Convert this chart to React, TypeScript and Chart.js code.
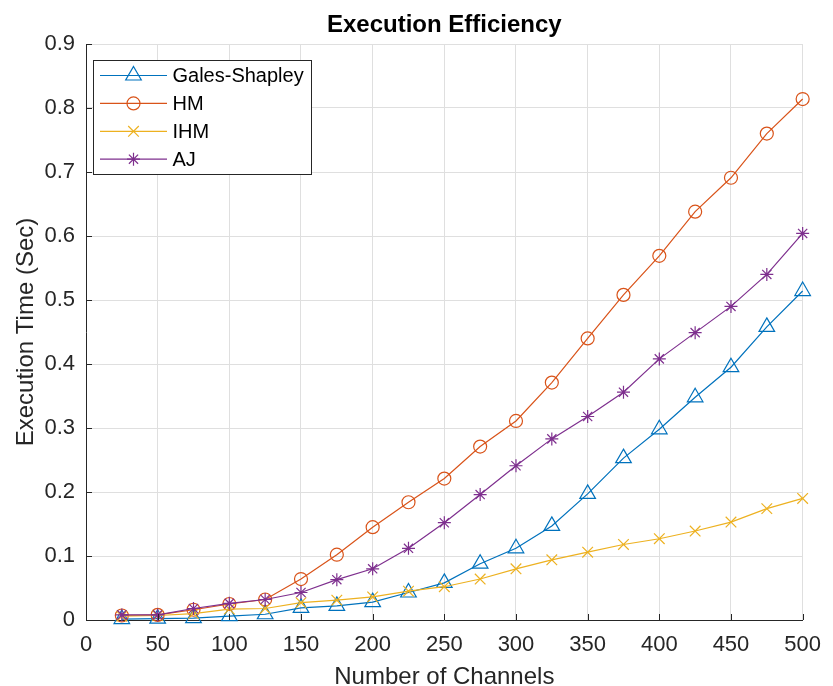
import React, { useEffect, useRef } from 'react';
import { Chart, registerables } from 'chart.js';

Chart.register(...registerables);

// ---- data ----
const channels = [25, 50, 75, 100, 125, 150, 175, 200, 225, 250, 275, 300, 325, 350, 375, 400, 425, 450, 475, 500];
const galesShapley = [0.0015, 0.002, 0.003, 0.006, 0.009, 0.019, 0.022, 0.028, 0.043, 0.058, 0.088, 0.112, 0.147, 0.197, 0.253, 0.298, 0.348, 0.395, 0.458, 0.514];
const hm = [0.007, 0.008, 0.016, 0.025, 0.032, 0.064, 0.102, 0.145, 0.184, 0.221, 0.271, 0.311, 0.371, 0.44, 0.508, 0.569, 0.638, 0.691, 0.76, 0.814];
const ihm = [0.006, 0.007, 0.01, 0.017, 0.018, 0.027, 0.031, 0.036, 0.045, 0.052, 0.064, 0.08, 0.094, 0.106, 0.118, 0.127, 0.139, 0.153, 0.174, 0.19];
const aj = [0.008, 0.008, 0.018, 0.026, 0.032, 0.043, 0.063, 0.08, 0.112, 0.152, 0.196, 0.241, 0.283, 0.318, 0.356, 0.408, 0.449, 0.49, 0.54, 0.604];
const seriesNames = ['Gales-Shapley', 'HM', 'IHM', 'AJ'];
const xTicks = [0, 50, 100, 150, 200, 250, 300, 350, 400, 450, 500];
const yTicks = [0, 0.1, 0.2, 0.3, 0.4, 0.5, 0.6, 0.7, 0.8, 0.9];
const titleText = 'Execution Efficiency';
const xTitle = 'Number of Channels';
const yTitle = 'Execution Time (Sec)';

// ---- styles ----
const colors = ['#0072BD', '#D95319', '#EDB120', '#7E2F8E'];
const markers = ['triangle', 'circle', 'crossRot', 'star'];
const markerRadius = [9, 6.5, 7.5, 6.5];
const FONT = '"Liberation Sans", Arial, Helvetica, sans-serif';
const AXIS_COLOR = '#262626';
const GRID_COLOR = '#dfdfdf';
const LINE_W = 1.2;

function drawMarker(ctx: CanvasRenderingContext2D, style: string, x: number, y: number, r: number) {
  ctx.beginPath();
  if (style === 'triangle') {
    let rad = 0;
    ctx.moveTo(x + Math.sin(rad) * r, y - Math.cos(rad) * r);
    rad += (2 * Math.PI) / 3;
    ctx.lineTo(x + Math.sin(rad) * r, y - Math.cos(rad) * r);
    rad += (2 * Math.PI) / 3;
    ctx.lineTo(x + Math.sin(rad) * r, y - Math.cos(rad) * r);
    ctx.closePath();
  } else if (style === 'circle') {
    ctx.arc(x, y, r, 0, Math.PI * 2);
  } else if (style === 'crossRot') {
    const d = Math.cos(Math.PI / 4) * r;
    ctx.moveTo(x - d, y - d);
    ctx.lineTo(x + d, y + d);
    ctx.moveTo(x - d, y + d);
    ctx.lineTo(x + d, y - d);
  } else if (style === 'star') {
    const d = Math.cos(Math.PI / 4) * r;
    ctx.moveTo(x - r, y);
    ctx.lineTo(x + r, y);
    ctx.moveTo(x, y - r);
    ctx.lineTo(x, y + r);
    ctx.moveTo(x - d, y - d);
    ctx.lineTo(x + d, y + d);
    ctx.moveTo(x - d, y + d);
    ctx.lineTo(x + d, y - d);
  }
  ctx.stroke();
}

const overlayPlugin = {
  id: 'overlay',
  afterDraw(chart: any) {
    const { ctx, chartArea: a, scales } = chart;
    ctx.save();
    // inward tick marks
    ctx.strokeStyle = AXIS_COLOR;
    ctx.lineWidth = 1;
    for (const v of xTicks) {
      const px = Math.round(scales.x.getPixelForValue(v)) + 0.5;
      ctx.beginPath();
      ctx.moveTo(px, a.bottom);
      ctx.lineTo(px, a.bottom - 6);
      ctx.stroke();
    }
    for (const v of yTicks) {
      const py = Math.round(scales.y.getPixelForValue(v)) + 0.5;
      ctx.beginPath();
      ctx.moveTo(a.left, py);
      ctx.lineTo(a.left + 6, py);
      ctx.stroke();
    }
    // title
    ctx.fillStyle = '#000';
    ctx.font = 'bold 24px ' + FONT;
    ctx.textAlign = 'center';
    ctx.textBaseline = 'alphabetic';
    ctx.fillText(titleText, (a.left + a.right) / 2, 31.5);
    // axis titles
    ctx.fillStyle = AXIS_COLOR;
    ctx.font = '24px ' + FONT;
    ctx.fillText(xTitle, (a.left + a.right) / 2, 684);
    ctx.save();
    ctx.translate(33, (a.top + a.bottom) / 2);
    ctx.rotate(-Math.PI / 2);
    ctx.fillText(yTitle, 0, 0);
    ctx.restore();
    // legend
    const bx = 93.5, by = 60.5, bw = 218, bh = 114;
    ctx.fillStyle = '#fff';
    ctx.fillRect(bx, by, bw, bh);
    ctx.strokeStyle = AXIS_COLOR;
    ctx.lineWidth = 1;
    ctx.strokeRect(bx, by, bw, bh);
    ctx.font = '20px ' + FONT;
    ctx.textAlign = 'left';
    ctx.textBaseline = 'middle';
    seriesNames.forEach((name, i) => {
      const ry = 75.5 + i * 27.9;
      ctx.strokeStyle = colors[i];
      ctx.lineWidth = LINE_W;
      ctx.beginPath();
      ctx.moveTo(100, ry);
      ctx.lineTo(167, ry);
      ctx.stroke();
      drawMarker(ctx, markers[i], 133.5, ry, markerRadius[i]);
      ctx.fillStyle = '#000';
      ctx.fillText(name, 172.5, ry + 1);
    });
    ctx.restore();
  },
};

export default function App() {
  const canvasRef = useRef<HTMLCanvasElement | null>(null);

  useEffect(() => {
    if (!canvasRef.current) return;
    const series = [galesShapley, hm, ihm, aj];
    const chart = new Chart(canvasRef.current, {
      type: 'line',
      data: {
        datasets: series.map((vals, i) => ({
          label: seriesNames[i],
          data: channels.map((c, j) => ({ x: c, y: vals[j] })),
          borderColor: colors[i],
          backgroundColor: 'rgba(0,0,0,0)',
          borderWidth: LINE_W,
          pointStyle: markers[i] as any,
          pointRadius: markerRadius[i],
          pointBorderColor: colors[i],
          pointBackgroundColor: 'rgba(0,0,0,0)',
          pointBorderWidth: LINE_W,
          tension: 0,
          fill: false,
          clip: false as any,
          order: 4 - i,
        })),
      },
      options: {
        animation: false,
        responsive: false,
        devicePixelRatio: 1,
        layout: { padding: { top: 44, right: 19, left: 0, bottom: 0 } },
        plugins: {
          legend: { display: false },
          title: { display: false },
          tooltip: { enabled: false },
        },
        scales: {
          x: {
            type: 'linear',
            min: 0,
            max: 500,
            afterFit: (s: any) => { s.height = 66; },
            afterBuildTicks: (s: any) => { s.ticks = xTicks.map((v) => ({ value: v })); },
            ticks: {
              stepSize: 50,
              padding: 12,
              color: AXIS_COLOR,
              font: { family: FONT, size: 22 },
              maxRotation: 0,
              autoSkip: false,
              callback: (v: any) => String(v),
            },
            grid: { color: GRID_COLOR, lineWidth: 1, drawTicks: false },
            border: { color: AXIS_COLOR, width: 1 },
          },
          y: {
            type: 'linear',
            min: 0,
            max: 0.9,
            afterFit: (s: any) => { s.width = 86; },
            afterBuildTicks: (s: any) => { s.ticks = yTicks.map((v) => ({ value: v })); },
            ticks: {
              stepSize: 0.1,
              padding: 11,
              color: AXIS_COLOR,
              font: { family: FONT, size: 22 },
              callback: (v: any) => String(Number(Number(v).toFixed(1))),
            },
            grid: { color: GRID_COLOR, lineWidth: 1, drawTicks: false },
            border: { color: AXIS_COLOR, width: 1 },
          },
        },
      },
      plugins: [overlayPlugin],
    });
    return () => chart.destroy();
  }, []);

  return (
    <div style={{ position: 'fixed', left: 0, top: 0, width: 833, height: 686, background: '#fff' }}>
      <canvas ref={canvasRef} width={833} height={686} style={{ display: 'block' }} />
    </div>
  );
}
